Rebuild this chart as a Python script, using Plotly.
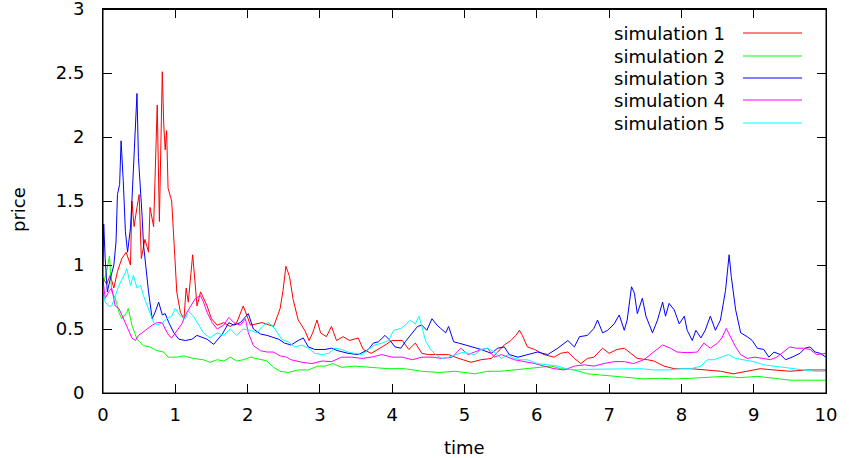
import plotly.graph_objects as go

# (time, price) pairs
sim1 = [(0, 0.9), (0.05, 0.85), (0.1, 0.92), (0.15, 0.82), (0.2, 0.95), (0.26, 1.05), (0.32, 1.1), (0.38, 1.0),
        (0.4, 1.5), (0.43, 1.3), (0.47, 1.45), (0.5, 1.55), (0.53, 1.05), (0.58, 1.2), (0.63, 1.1), (0.65, 1.45),
        (0.7, 1.3), (0.72, 1.76), (0.75, 2.25), (0.78, 1.34), (0.82, 2.51), (0.84, 2.1), (0.86, 1.9), (0.88, 2.05),
        (0.9, 1.6), (0.95, 1.5), (0.98, 1.24), (1.0, 1.0), (1.02, 0.79), (1.07, 0.63), (1.12, 0.58), (1.15, 0.82),
        (1.18, 0.71), (1.24, 1.08), (1.28, 0.82), (1.3, 0.68), (1.35, 0.79), (1.44, 0.68), (1.5, 0.58), (1.58, 0.53),
        (1.67, 0.55), (1.76, 0.52), (1.85, 0.55), (1.94, 0.68), (2.04, 0.53), (2.2, 0.55), (2.36, 0.52), (2.45, 0.66),
        (2.49, 0.8), (2.53, 0.99), (2.58, 0.91), (2.63, 0.73), (2.7, 0.57), (2.79, 0.49), (2.85, 0.41), (2.9, 0.47),
        (2.96, 0.57), (3.01, 0.47), (3.09, 0.44), (3.16, 0.52), (3.23, 0.41), (3.32, 0.44), (3.41, 0.41), (3.53, 0.43),
        (3.6, 0.34), (3.71, 0.31), (3.86, 0.36), (4.0, 0.41), (4.14, 0.41), (4.23, 0.34), (4.32, 0.39), (4.41, 0.31),
        (4.5, 0.3), (4.64, 0.3), (4.78, 0.3), (4.92, 0.27), (5.09, 0.24), (5.23, 0.26), (5.37, 0.27), (5.46, 0.32),
        (5.55, 0.375), (5.64, 0.41), (5.71, 0.45), (5.76, 0.49), (5.8, 0.45), (5.87, 0.36), (5.97, 0.34), (6.1, 0.3),
        (6.24, 0.28), (6.33, 0.31), (6.43, 0.32), (6.52, 0.27), (6.61, 0.23), (6.7, 0.27), (6.79, 0.28), (6.91, 0.35),
        (7.0, 0.31), (7.11, 0.34), (7.21, 0.35), (7.3, 0.31), (7.39, 0.27), (7.53, 0.26), (7.62, 0.25), (7.76, 0.21),
        (7.9, 0.19), (8.13, 0.19), (8.36, 0.18), (8.54, 0.17), (8.72, 0.15), (8.91, 0.17), (9.09, 0.19), (9.28, 0.18),
        (9.5, 0.17), (9.73, 0.18), (10.0, 0.18)]

sim2 = [(0, 0.85), (0.05, 0.95), (0.09, 1.07), (0.12, 0.79), (0.17, 0.74), (0.22, 0.63), (0.26, 0.58), (0.33, 0.63),
        (0.35, 0.66), (0.4, 0.53), (0.47, 0.42), (0.56, 0.37), (0.65, 0.36), (0.75, 0.33), (0.84, 0.32), (0.9, 0.28),
        (1.02, 0.28), (1.12, 0.29), (1.25, 0.27), (1.39, 0.26), (1.48, 0.24), (1.58, 0.26), (1.67, 0.25), (1.76, 0.28),
        (1.85, 0.25), (1.94, 0.26), (2.04, 0.28), (2.18, 0.26), (2.27, 0.25), (2.36, 0.2), (2.45, 0.17), (2.56, 0.16),
        (2.7, 0.18), (2.84, 0.18), (2.97, 0.21), (3.07, 0.21), (3.18, 0.23), (3.3, 0.2), (3.48, 0.21), (3.71, 0.2),
        (3.94, 0.19), (4.17, 0.19), (4.41, 0.17), (4.64, 0.16), (4.87, 0.17), (5.14, 0.15), (5.32, 0.17), (5.5, 0.17),
        (5.69, 0.18), (5.87, 0.19), (6.06, 0.2), (6.2, 0.21), (6.33, 0.19), (6.52, 0.18), (6.7, 0.15), (6.89, 0.14),
        (7.07, 0.13), (7.25, 0.12), (7.48, 0.11), (7.71, 0.115), (7.9, 0.11), (8.13, 0.115), (8.36, 0.12), (8.59, 0.13),
        (8.82, 0.12), (9.05, 0.13), (9.28, 0.115), (9.5, 0.1), (9.73, 0.1), (10.0, 0.1)]

sim3 = [(0, 1.0), (0.01, 1.32), (0.03, 1.05), (0.06, 0.79), (0.1, 0.89), (0.15, 1.0), (0.18, 1.18), (0.2, 1.55),
        (0.23, 1.63), (0.25, 1.97), (0.28, 1.66), (0.31, 1.26), (0.34, 1.1), (0.38, 1.29), (0.4, 1.5), (0.43, 1.84),
        (0.47, 2.34), (0.49, 1.84), (0.52, 1.6), (0.54, 1.39), (0.56, 1.16), (0.59, 1.0), (0.63, 0.79), (0.68, 0.58),
        (0.72, 0.63), (0.77, 0.71), (0.82, 0.61), (0.86, 0.62), (0.91, 0.55), (0.98, 0.47), (1.05, 0.42), (1.14, 0.41),
        (1.23, 0.42), (1.3, 0.45), (1.44, 0.42), (1.53, 0.38), (1.65, 0.46), (1.74, 0.55), (1.81, 0.53), (1.9, 0.55),
        (2.01, 0.62), (2.08, 0.5), (2.18, 0.46), (2.27, 0.45), (2.36, 0.43), (2.43, 0.42), (2.51, 0.39), (2.6, 0.375),
        (2.7, 0.41), (2.77, 0.43), (2.84, 0.36), (2.93, 0.34), (3.07, 0.34), (3.16, 0.35), (3.25, 0.33), (3.39, 0.31),
        (3.53, 0.3), (3.67, 0.34), (3.74, 0.39), (3.81, 0.4), (3.9, 0.45), (3.97, 0.41), (4.04, 0.36), (4.12, 0.35),
        (4.18, 0.4), (4.28, 0.47), (4.35, 0.52), (4.41, 0.53), (4.48, 0.49), (4.55, 0.58), (4.62, 0.53), (4.67, 0.505),
        (4.74, 0.47), (4.78, 0.52), (4.85, 0.4), (4.92, 0.39), (5.01, 0.375), (5.09, 0.36), (5.23, 0.34), (5.37, 0.31),
        (5.46, 0.35), (5.55, 0.36), (5.62, 0.3), (5.74, 0.28), (5.87, 0.3), (6.01, 0.32), (6.15, 0.3), (6.29, 0.35),
        (6.43, 0.41), (6.52, 0.36), (6.59, 0.44), (6.7, 0.45), (6.79, 0.505), (6.84, 0.57), (6.91, 0.47), (6.98, 0.49),
        (7.07, 0.54), (7.14, 0.61), (7.21, 0.49), (7.25, 0.57), (7.31, 0.83), (7.35, 0.78), (7.39, 0.62), (7.46, 0.74),
        (7.51, 0.6), (7.6, 0.47), (7.67, 0.57), (7.74, 0.71), (7.78, 0.6), (7.83, 0.7), (7.9, 0.65), (7.97, 0.54),
        (8.04, 0.6), (8.08, 0.49), (8.15, 0.41), (8.2, 0.49), (8.27, 0.43), (8.33, 0.49), (8.4, 0.6), (8.47, 0.49),
        (8.54, 0.57), (8.61, 0.8), (8.66, 1.08), (8.69, 0.91), (8.75, 0.65), (8.82, 0.47), (8.91, 0.44), (8.98, 0.41),
        (9.05, 0.35), (9.14, 0.34), (9.21, 0.28), (9.28, 0.32), (9.37, 0.3), (9.44, 0.26), (9.53, 0.28), (9.64, 0.31),
        (9.71, 0.35), (9.78, 0.36), (9.85, 0.32), (9.92, 0.31), (10.0, 0.28)]

sim4 = [(0, 0.89), (0.03, 0.74), (0.08, 0.79), (0.12, 0.82), (0.17, 0.68), (0.22, 0.66), (0.26, 0.61), (0.31, 0.55),
        (0.35, 0.5), (0.4, 0.43), (0.45, 0.41), (0.49, 0.45), (0.54, 0.47), (0.61, 0.5), (0.68, 0.53), (0.75, 0.55),
        (0.82, 0.55), (0.86, 0.5), (0.91, 0.45), (0.95, 0.43), (1.02, 0.49), (1.09, 0.54), (1.16, 0.63), (1.21, 0.68),
        (1.28, 0.74), (1.35, 0.76), (1.39, 0.71), (1.44, 0.63), (1.51, 0.55), (1.58, 0.5), (1.67, 0.53), (1.74, 0.59),
        (1.81, 0.55), (1.9, 0.53), (1.97, 0.58), (2.01, 0.47), (2.08, 0.37), (2.18, 0.33), (2.27, 0.32), (2.36, 0.32),
        (2.45, 0.29), (2.54, 0.28), (2.6, 0.26), (2.75, 0.24), (2.89, 0.23), (3.03, 0.25), (3.16, 0.245), (3.3, 0.28),
        (3.44, 0.28), (3.58, 0.27), (3.71, 0.28), (3.86, 0.3), (4.0, 0.28), (4.14, 0.28), (4.28, 0.26), (4.41, 0.28),
        (4.55, 0.28), (4.69, 0.27), (4.83, 0.28), (4.95, 0.35), (5.05, 0.3), (5.14, 0.32), (5.23, 0.34), (5.32, 0.35),
        (5.41, 0.28), (5.51, 0.3), (5.6, 0.28), (5.69, 0.26), (5.83, 0.245), (5.97, 0.23), (6.1, 0.21), (6.24, 0.19),
        (6.38, 0.18), (6.52, 0.21), (6.66, 0.22), (6.79, 0.21), (6.93, 0.23), (7.07, 0.245), (7.21, 0.245), (7.34, 0.23),
        (7.48, 0.26), (7.57, 0.3), (7.67, 0.35), (7.74, 0.375), (7.85, 0.35), (7.94, 0.32), (8.08, 0.315), (8.22, 0.32),
        (8.31, 0.39), (8.4, 0.35), (8.5, 0.39), (8.56, 0.43), (8.62, 0.505), (8.68, 0.44), (8.75, 0.36), (8.82, 0.3),
        (8.91, 0.27), (9.02, 0.28), (9.14, 0.27), (9.23, 0.26), (9.32, 0.28), (9.41, 0.32), (9.5, 0.36), (9.59, 0.35),
        (9.69, 0.35), (9.78, 0.34), (9.87, 0.3), (10.0, 0.31)]

sim5 = [(0, 0.79), (0.03, 0.71), (0.08, 0.68), (0.12, 0.68), (0.17, 0.76), (0.22, 0.84), (0.29, 0.92), (0.33, 0.97),
        (0.38, 0.84), (0.42, 0.92), (0.47, 0.82), (0.52, 0.84), (0.56, 0.76), (0.61, 0.68), (0.65, 0.62), (0.7, 0.55),
        (0.75, 0.53), (0.82, 0.55), (0.88, 0.58), (0.95, 0.6), (1.0, 0.66), (1.07, 0.6), (1.14, 0.58), (1.18, 0.64),
        (1.25, 0.6), (1.32, 0.53), (1.39, 0.47), (1.48, 0.43), (1.58, 0.47), (1.67, 0.45), (1.76, 0.5), (1.85, 0.45),
        (1.94, 0.5), (2.04, 0.49), (2.13, 0.47), (2.22, 0.53), (2.29, 0.55), (2.38, 0.5), (2.47, 0.42), (2.56, 0.4),
        (2.65, 0.36), (2.75, 0.375), (2.84, 0.35), (2.93, 0.31), (3.03, 0.3), (3.12, 0.31), (3.21, 0.35), (3.3, 0.34),
        (3.39, 0.32), (3.48, 0.31), (3.58, 0.3), (3.67, 0.34), (3.76, 0.375), (3.86, 0.39), (3.95, 0.41), (4.02, 0.49),
        (4.12, 0.505), (4.18, 0.53), (4.25, 0.57), (4.32, 0.54), (4.37, 0.6), (4.41, 0.52), (4.46, 0.41), (4.53, 0.34),
        (4.6, 0.3), (4.69, 0.27), (4.78, 0.28), (4.88, 0.3), (4.99, 0.32), (5.05, 0.31), (5.14, 0.3), (5.23, 0.34),
        (5.32, 0.35), (5.41, 0.32), (5.51, 0.27), (5.6, 0.3), (5.69, 0.27), (5.78, 0.26), (5.87, 0.26), (6.01, 0.23),
        (6.15, 0.22), (6.29, 0.21), (6.43, 0.185), (6.56, 0.18), (6.7, 0.185), (6.89, 0.185), (7.07, 0.185), (7.25, 0.185),
        (7.44, 0.19), (7.62, 0.18), (7.81, 0.18), (7.99, 0.19), (8.13, 0.19), (8.27, 0.21), (8.36, 0.26), (8.45, 0.26),
        (8.56, 0.28), (8.65, 0.3), (8.75, 0.27), (8.86, 0.26), (9.0, 0.245), (9.14, 0.22), (9.28, 0.21), (9.41, 0.2),
        (9.55, 0.19), (9.69, 0.18), (9.83, 0.17), (10.0, 0.17)]

series_names = ["simulation 1", "simulation 2", "simulation 3", "simulation 4", "simulation 5"]
series_data = [sim1, sim2, sim3, sim4, sim5]
colors = ["#ff0000", "#00ff00", "#0000ff", "#ff00ff", "#00ffff"]

x_ticks = list(range(0, 11))
y_ticks = [0, 0.5, 1, 1.5, 2, 2.5, 3]
y_ticklabels = ["0", "0.5", "1", "1.5", "2", "2.5", "3"]

FONT = "DejaVu Sans"
fig = go.Figure()
for name, data, col in zip(series_names, series_data, colors):
    fig.add_trace(go.Scatter(
        x=[p[0] for p in data], y=[p[1] for p in data], mode="lines", name=name,
        line=dict(color=col, width=1), showlegend=False))

# manual gnuplot-style key: text right-aligned, sample line to its right
row_y = [0.9375, 0.8776, 0.8203, 0.7630, 0.7031]
for name, col, yy in zip(series_names, colors, row_y):
    fig.add_annotation(x=0.8630, y=yy, xref="paper", yref="paper", text=name, showarrow=False,
                       xanchor="right", yanchor="middle", font=dict(family=FONT, size=18, color="#000000"))
    fig.add_shape(type="line", xref="paper", yref="paper", x0=0.8852, x1=0.9668, y0=yy, y1=yy,
                  line=dict(color=col, width=1))

# plot frame (top edge nudged half a pixel so it renders crisply)
fig.add_shape(type="rect", xref="paper", yref="paper", x0=0, x1=1, y0=0, y1=0.9987,
              line=dict(color="#000000", width=1), fillcolor="rgba(0,0,0,0)", layer="above")

fig.add_annotation(x=0.5, y=-0.143, xref="paper", yref="paper", text="time", showarrow=False,
                   xanchor="center", yanchor="middle", font=dict(family=FONT, size=18, color="#000000"))
fig.add_annotation(x=-0.1176, y=0.479, xref="paper", yref="paper", text="price", showarrow=False,
                   textangle=-90, xanchor="center", yanchor="middle", font=dict(family=FONT, size=18, color="#000000"))

axis_common = dict(showline=True, linecolor="#000000", linewidth=1, mirror="ticks", ticks="inside",
                   ticklen=9, tickwidth=1, tickcolor="#000000", showgrid=False, zeroline=False,
                   automargin=False, ticklabeloverflow="allow",
                   tickfont=dict(family=FONT, size=18, color="#000000"))
fig.update_xaxes(range=[0, 10], tickmode="array", tickvals=x_ticks, ticktext=[str(v) for v in x_ticks],
                 ticklabelstandoff=5, **axis_common)
fig.update_yaxes(range=[0, 3], tickmode="array", tickvals=y_ticks, ticktext=y_ticklabels,
                 ticklabelstandoff=14, **axis_common)

fig.update_layout(width=849, height=458, margin=dict(l=103, r=23, t=9, b=65, pad=0),
                  paper_bgcolor="#ffffff", plot_bgcolor="#ffffff",
                  font=dict(family=FONT, size=18, color="#000000"))
fig.write_html("out.html", config={"displayModeBar": False},
               post_script="document.body.style.margin='0';document.body.style.padding='0';"
                           "document.documentElement.style.overflow='hidden';")
